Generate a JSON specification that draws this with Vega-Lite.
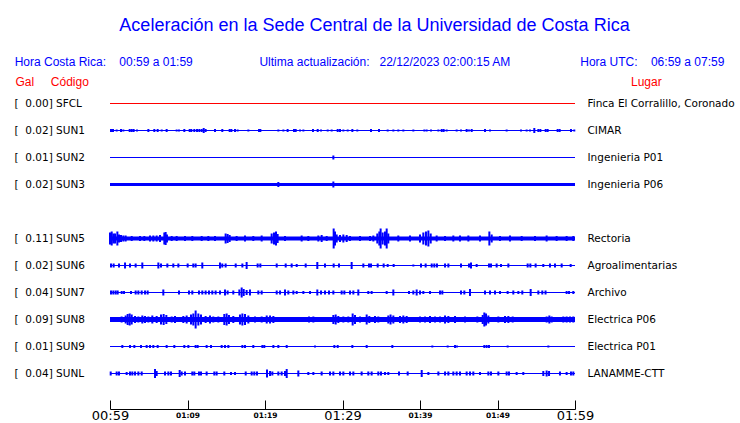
{
  "$schema": "https://vega.github.io/schema/vega-lite/v6.json",
  "width": 465,
  "height": 297,
  "autosize": "none",
  "padding": {"left": 110, "top": 90, "right": 165, "bottom": 36},
  "background": "white",
  "title": {
    "text": "Aceleración en la Sede Central de la Universidad de Costa Rica",
    "subtitle": "Hora Costa Rica:\u00a0\u00a0\u00a0\u00a000:59 a 01:59\u00a0\u00a0\u00a0\u00a0\u00a0\u00a0\u00a0\u00a0\u00a0\u00a0\u00a0\u00a0\u00a0\u00a0\u00a0\u00a0\u00a0\u00a0\u00a0\u00a0Ultima actualización:\u00a0\u00a0\u00a022/12/2023 02:00:15 AM\u00a0\u00a0\u00a0\u00a0\u00a0\u00a0\u00a0\u00a0\u00a0\u00a0\u00a0\u00a0\u00a0\u00a0\u00a0\u00a0\u00a0\u00a0\u00a0\u00a0\u00a0Hora UTC:\u00a0\u00a0\u00a0\u00a006:59 a 07:59\u00a0\u00a0\u00a0\u200b",
    "anchor": "middle",
    "frame": "group",
    "dx": 32,
    "offset": 7,
    "font": "Liberation Sans",
    "fontSize": 18,
    "fontWeight": "normal",
    "color": "#0000ff",
    "subtitleFont": "Liberation Sans",
    "subtitleFontSize": 12,
    "subtitleColor": "#0000ff",
    "subtitlePadding": 22
  },
  "datasets": {
    "est": [
      {"st": "SFCL", "izq": "[\u00a0\u00a00.00] SFCL", "lugar": "Finca El Corralillo, Coronado", "ini": 0, "fin": 60, "ruido": 1},
      {"st": "SUN1", "izq": "[\u00a0\u00a00.02] SUN1", "lugar": "CIMAR", "ini": 0, "fin": 60, "ruido": 1},
      {"st": "SUN2", "izq": "[\u00a0\u00a00.01] SUN2", "lugar": "Ingenieria P01", "ini": 0, "fin": 60, "ruido": 1},
      {"st": "SUN3", "izq": "[\u00a0\u00a00.02] SUN3", "lugar": "Ingenieria P06", "ini": 0, "fin": 60, "ruido": 3},
      {"st": "SUN5", "izq": "[\u00a0\u00a00.11] SUN5", "lugar": "Rectoria", "ini": 0, "fin": 60, "ruido": 4},
      {"st": "SUN6", "izq": "[\u00a0\u00a00.02] SUN6", "lugar": "Agroalimentarias", "ini": 0, "fin": 60, "ruido": 1},
      {"st": "SUN7", "izq": "[\u00a0\u00a00.04] SUN7", "lugar": "Archivo", "ini": 0, "fin": 60, "ruido": 1},
      {"st": "SUN8", "izq": "[\u00a0\u00a00.09] SUN8", "lugar": "Electrica P06", "ini": 0, "fin": 60, "ruido": 5},
      {"st": "SUN9", "izq": "[\u00a0\u00a00.01] SUN9", "lugar": "Electrica P01", "ini": 0, "fin": 60, "ruido": 1},
      {"st": "SUNL", "izq": "[\u00a0\u00a00.04] SUNL", "lugar": "LANAMME-CTT", "ini": 0, "fin": 60, "ruido": 1}
    ],
    "trazas": [
      {"s":"SUN1","m":0.13,"a":3},{"s":"SUN1","m":0.39,"a":3},{"s":"SUN1","m":0.86,"a":2},{"s":"SUN1","m":1.42,"a":3},{"s":"SUN1","m":1.72,"a":2},
      {"s":"SUN1","m":2.54,"a":3},{"s":"SUN1","m":2.8,"a":3},{"s":"SUN1","m":3.05,"a":3},{"s":"SUN1","m":3.48,"a":2},{"s":"SUN1","m":4.95,"a":3},
      {"s":"SUN1","m":5.72,"a":3},{"s":"SUN1","m":6.15,"a":3},{"s":"SUN1","m":6.67,"a":2},{"s":"SUN1","m":7.31,"a":3},{"s":"SUN1","m":8.6,"a":2},
      {"s":"SUN1","m":8.9,"a":2},{"s":"SUN1","m":9.59,"a":3},{"s":"SUN1","m":10.28,"a":3},{"s":"SUN1","m":10.49,"a":3},{"s":"SUN1","m":10.88,"a":3},
      {"s":"SUN1","m":11.23,"a":3},{"s":"SUN1","m":11.53,"a":3},{"s":"SUN1","m":11.83,"a":3},{"s":"SUN1","m":12.09,"a":5},{"s":"SUN1","m":12.34,"a":3},
      {"s":"SUN1","m":13.55,"a":3},{"s":"SUN1","m":14.49,"a":3},{"s":"SUN1","m":15.44,"a":3},{"s":"SUN1","m":15.66,"a":3},{"s":"SUN1","m":16.13,"a":3},
      {"s":"SUN1","m":16.47,"a":2},{"s":"SUN1","m":17.85,"a":2},{"s":"SUN1","m":19.23,"a":3},{"s":"SUN1","m":19.4,"a":3},{"s":"SUN1","m":21.72,"a":2},
      {"s":"SUN1","m":22.37,"a":2},{"s":"SUN1","m":22.92,"a":3},{"s":"SUN1","m":23.74,"a":3},{"s":"SUN1","m":23.96,"a":3},{"s":"SUN1","m":24.52,"a":2},
      {"s":"SUN1","m":24.95,"a":2},{"s":"SUN1","m":26.19,"a":3},{"s":"SUN1","m":26.8,"a":3},{"s":"SUN1","m":27.23,"a":2},{"s":"SUN1","m":28.09,"a":2},
      {"s":"SUN1","m":28.6,"a":2},{"s":"SUN1","m":29.38,"a":3},{"s":"SUN1","m":29.68,"a":3},{"s":"SUN1","m":30.11,"a":2},{"s":"SUN1","m":30.67,"a":2},
      {"s":"SUN1","m":31.27,"a":3},{"s":"SUN1","m":31.91,"a":2},{"s":"SUN1","m":33.68,"a":3},{"s":"SUN1","m":34.71,"a":3},{"s":"SUN1","m":35.83,"a":2},
      {"s":"SUN1","m":36.56,"a":2},{"s":"SUN1","m":37.2,"a":2},{"s":"SUN1","m":37.85,"a":2},{"s":"SUN1","m":39.14,"a":2},{"s":"SUN1","m":40.56,"a":2},
      {"s":"SUN1","m":40.86,"a":2},{"s":"SUN1","m":41.42,"a":2},{"s":"SUN1","m":42.37,"a":2},{"s":"SUN1","m":42.8,"a":3},{"s":"SUN1","m":43.05,"a":3},
      {"s":"SUN1","m":43.44,"a":2},{"s":"SUN1","m":44.73,"a":2},{"s":"SUN1","m":45.29,"a":2},{"s":"SUN1","m":46.02,"a":3},{"s":"SUN1","m":46.32,"a":2},
      {"s":"SUN1","m":46.67,"a":3},{"s":"SUN1","m":48.39,"a":3},{"s":"SUN1","m":49.03,"a":2},{"s":"SUN1","m":51.18,"a":2},{"s":"SUN1","m":53.03,"a":2},
      {"s":"SUN1","m":53.76,"a":2},{"s":"SUN1","m":54.19,"a":2},{"s":"SUN1","m":54.75,"a":5},{"s":"SUN1","m":55.27,"a":3},{"s":"SUN1","m":55.53,"a":3},
      {"s":"SUN1","m":56.22,"a":3},{"s":"SUN1","m":56.47,"a":3},{"s":"SUN1","m":57.76,"a":3},{"s":"SUN1","m":58.02,"a":3},{"s":"SUN1","m":59.48,"a":3},
      {"s":"SUN1","m":59.91,"a":2},
      {"s":"SUN2","m":28.82,"a":4},
      {"s":"SUN3","m":21.72,"a":5},{"s":"SUN3","m":28.82,"a":6},
      {"s":"SUN5","m":0,"a":12},{"s":"SUN5","m":0.22,"a":14},{"s":"SUN5","m":0.43,"a":10},{"s":"SUN5","m":0.65,"a":10},{"s":"SUN5","m":0.95,"a":14},
      {"s":"SUN5","m":1.16,"a":8},{"s":"SUN5","m":1.42,"a":7},{"s":"SUN5","m":1.72,"a":6},{"s":"SUN5","m":2.02,"a":6},{"s":"SUN5","m":2.8,"a":5},
      {"s":"SUN5","m":3.87,"a":5},{"s":"SUN5","m":4.43,"a":5},{"s":"SUN5","m":5.16,"a":6},{"s":"SUN5","m":5.59,"a":6},{"s":"SUN5","m":6.02,"a":6},
      {"s":"SUN5","m":6.45,"a":7},{"s":"SUN5","m":7.01,"a":12},{"s":"SUN5","m":7.18,"a":13},{"s":"SUN5","m":7.35,"a":8},{"s":"SUN5","m":7.96,"a":5},
      {"s":"SUN5","m":8.6,"a":5},{"s":"SUN5","m":9.68,"a":5},{"s":"SUN5","m":10.62,"a":5},{"s":"SUN5","m":11.83,"a":5},{"s":"SUN5","m":12.69,"a":5},
      {"s":"SUN5","m":13.55,"a":5},{"s":"SUN5","m":14.92,"a":10},{"s":"SUN5","m":15.18,"a":9},{"s":"SUN5","m":15.44,"a":7},{"s":"SUN5","m":16.34,"a":5},
      {"s":"SUN5","m":17.42,"a":6},{"s":"SUN5","m":18.49,"a":5},{"s":"SUN5","m":19.57,"a":6},{"s":"SUN5","m":20.86,"a":10},{"s":"SUN5","m":21.16,"a":12},
      {"s":"SUN5","m":21.42,"a":14},{"s":"SUN5","m":21.63,"a":9},{"s":"SUN5","m":22.58,"a":5},{"s":"SUN5","m":24.73,"a":6},{"s":"SUN5","m":25.59,"a":5},
      {"s":"SUN5","m":26.88,"a":6},{"s":"SUN5","m":27.31,"a":7},{"s":"SUN5","m":27.96,"a":5},{"s":"SUN5","m":28.86,"a":20},{"s":"SUN5","m":29.03,"a":14},
      {"s":"SUN5","m":29.25,"a":8},{"s":"SUN5","m":29.68,"a":7},{"s":"SUN5","m":30.11,"a":8},{"s":"SUN5","m":30.54,"a":7},{"s":"SUN5","m":30.97,"a":5},
      {"s":"SUN5","m":32.26,"a":5},{"s":"SUN5","m":33.55,"a":5},{"s":"SUN5","m":33.98,"a":6},{"s":"SUN5","m":34.49,"a":10},{"s":"SUN5","m":34.75,"a":14},
      {"s":"SUN5","m":34.92,"a":20},{"s":"SUN5","m":35.18,"a":12},{"s":"SUN5","m":35.48,"a":14},{"s":"SUN5","m":35.7,"a":20},{"s":"SUN5","m":35.91,"a":10},
      {"s":"SUN5","m":37.2,"a":6},{"s":"SUN5","m":38.71,"a":6},{"s":"SUN5","m":40,"a":8},{"s":"SUN5","m":40.43,"a":12},{"s":"SUN5","m":40.77,"a":14},
      {"s":"SUN5","m":41.08,"a":16},{"s":"SUN5","m":41.38,"a":10},{"s":"SUN5","m":42.15,"a":6},{"s":"SUN5","m":43.23,"a":5},{"s":"SUN5","m":44.3,"a":6},
      {"s":"SUN5","m":45.16,"a":6},{"s":"SUN5","m":46.24,"a":6},{"s":"SUN5","m":47.74,"a":6},{"s":"SUN5","m":48.95,"a":14},{"s":"SUN5","m":49.25,"a":8},
      {"s":"SUN5","m":50.32,"a":5},{"s":"SUN5","m":51.61,"a":6},{"s":"SUN5","m":53.12,"a":5},{"s":"SUN5","m":54.84,"a":5},{"s":"SUN5","m":56.34,"a":6},
      {"s":"SUN5","m":57.63,"a":5},{"s":"SUN5","m":58.92,"a":5},{"s":"SUN5","m":59.78,"a":5},
      {"s":"SUN6","m":0.13,"a":4},{"s":"SUN6","m":0.47,"a":4},{"s":"SUN6","m":1.16,"a":4},{"s":"SUN6","m":1.94,"a":6},{"s":"SUN6","m":2.58,"a":4},
      {"s":"SUN6","m":3.31,"a":4},{"s":"SUN6","m":4.17,"a":6},{"s":"SUN6","m":6.24,"a":6},{"s":"SUN6","m":6.58,"a":4},{"s":"SUN6","m":7.4,"a":4},
      {"s":"SUN6","m":8.17,"a":4},{"s":"SUN6","m":8.82,"a":4},{"s":"SUN6","m":10.02,"a":4},{"s":"SUN6","m":10.75,"a":4},{"s":"SUN6","m":11.05,"a":4},
      {"s":"SUN6","m":11.91,"a":6},{"s":"SUN6","m":14.19,"a":6},{"s":"SUN6","m":14.49,"a":4},{"s":"SUN6","m":14.92,"a":4},{"s":"SUN6","m":16.22,"a":4},
      {"s":"SUN6","m":17.08,"a":4},{"s":"SUN6","m":17.63,"a":7},{"s":"SUN6","m":19.05,"a":4},{"s":"SUN6","m":19.4,"a":4},{"s":"SUN6","m":21.51,"a":4},
      {"s":"SUN6","m":22.67,"a":4},{"s":"SUN6","m":23.44,"a":4},{"s":"SUN6","m":24.09,"a":3},{"s":"SUN6","m":25.25,"a":4},{"s":"SUN6","m":26.75,"a":7},
      {"s":"SUN6","m":27.74,"a":4},{"s":"SUN6","m":28.86,"a":4},{"s":"SUN6","m":29.55,"a":4},{"s":"SUN6","m":31.18,"a":7},{"s":"SUN6","m":32.69,"a":4},
      {"s":"SUN6","m":33.42,"a":4},{"s":"SUN6","m":33.68,"a":4},{"s":"SUN6","m":34.54,"a":4},{"s":"SUN6","m":35.31,"a":4},{"s":"SUN6","m":35.83,"a":3},
      {"s":"SUN6","m":36.6,"a":3},{"s":"SUN6","m":39.14,"a":2},{"s":"SUN6","m":40.13,"a":4},{"s":"SUN6","m":40.73,"a":4},{"s":"SUN6","m":41.51,"a":4},
      {"s":"SUN6","m":41.85,"a":4},{"s":"SUN6","m":42.19,"a":4},{"s":"SUN6","m":43.23,"a":4},{"s":"SUN6","m":43.66,"a":4},{"s":"SUN6","m":45.29,"a":4},
      {"s":"SUN6","m":46.32,"a":4},{"s":"SUN6","m":46.58,"a":6},{"s":"SUN6","m":47.31,"a":3},{"s":"SUN6","m":48.9,"a":4},{"s":"SUN6","m":49.16,"a":4},
      {"s":"SUN6","m":49.89,"a":4},{"s":"SUN6","m":50.45,"a":3},{"s":"SUN6","m":51.4,"a":4},{"s":"SUN6","m":53.89,"a":4},{"s":"SUN6","m":54.24,"a":4},
      {"s":"SUN6","m":54.92,"a":4},{"s":"SUN6","m":55.91,"a":3},{"s":"SUN6","m":56.77,"a":4},{"s":"SUN6","m":57.42,"a":4},{"s":"SUN6","m":58.28,"a":4},
      {"s":"SUN6","m":59.44,"a":3},
      {"s":"SUN7","m":0.13,"a":4},{"s":"SUN7","m":0.43,"a":4},{"s":"SUN7","m":0.73,"a":4},{"s":"SUN7","m":0.99,"a":4},{"s":"SUN7","m":1.51,"a":3},
      {"s":"SUN7","m":1.81,"a":3},{"s":"SUN7","m":2.71,"a":3},{"s":"SUN7","m":3.31,"a":4},{"s":"SUN7","m":3.66,"a":4},{"s":"SUN7","m":4.09,"a":4},
      {"s":"SUN7","m":4.52,"a":4},{"s":"SUN7","m":4.86,"a":4},{"s":"SUN7","m":6.88,"a":6},{"s":"SUN7","m":8.9,"a":4},{"s":"SUN7","m":10.19,"a":4},
      {"s":"SUN7","m":10.62,"a":4},{"s":"SUN7","m":11.48,"a":4},{"s":"SUN7","m":11.91,"a":4},{"s":"SUN7","m":12.34,"a":4},{"s":"SUN7","m":12.77,"a":4},
      {"s":"SUN7","m":13.2,"a":4},{"s":"SUN7","m":13.63,"a":4},{"s":"SUN7","m":14.19,"a":4},{"s":"SUN7","m":14.84,"a":6},{"s":"SUN7","m":15.18,"a":4},
      {"s":"SUN7","m":15.91,"a":4},{"s":"SUN7","m":16.69,"a":6},{"s":"SUN7","m":16.99,"a":10},{"s":"SUN7","m":17.25,"a":7},{"s":"SUN7","m":17.63,"a":5},
      {"s":"SUN7","m":18.06,"a":6},{"s":"SUN7","m":19.14,"a":4},{"s":"SUN7","m":19.57,"a":4},{"s":"SUN7","m":21.51,"a":4},{"s":"SUN7","m":21.94,"a":4},
      {"s":"SUN7","m":22.58,"a":6},{"s":"SUN7","m":23.01,"a":4},{"s":"SUN7","m":23.66,"a":4},{"s":"SUN7","m":24.09,"a":3},{"s":"SUN7","m":24.95,"a":3},
      {"s":"SUN7","m":25.81,"a":3},{"s":"SUN7","m":26.75,"a":6},{"s":"SUN7","m":27.23,"a":4},{"s":"SUN7","m":27.74,"a":4},{"s":"SUN7","m":28.26,"a":4},
      {"s":"SUN7","m":28.82,"a":4},{"s":"SUN7","m":29.89,"a":4},{"s":"SUN7","m":30.24,"a":4},{"s":"SUN7","m":30.97,"a":4},{"s":"SUN7","m":31.4,"a":4},
      {"s":"SUN7","m":32.04,"a":6},{"s":"SUN7","m":33.33,"a":3},{"s":"SUN7","m":33.76,"a":3},{"s":"SUN7","m":35.7,"a":3},{"s":"SUN7","m":36.56,"a":6},
      {"s":"SUN7","m":38.58,"a":3},{"s":"SUN7","m":39.14,"a":4},{"s":"SUN7","m":39.57,"a":6},{"s":"SUN7","m":40,"a":4},{"s":"SUN7","m":40.43,"a":3},
      {"s":"SUN7","m":41.29,"a":3},{"s":"SUN7","m":42.58,"a":4},{"s":"SUN7","m":42.88,"a":4},{"s":"SUN7","m":45.29,"a":4},{"s":"SUN7","m":45.72,"a":4},
      {"s":"SUN7","m":46.45,"a":7},{"s":"SUN7","m":48.39,"a":4},{"s":"SUN7","m":49.03,"a":4},{"s":"SUN7","m":49.68,"a":4},{"s":"SUN7","m":50.32,"a":3},
      {"s":"SUN7","m":51.31,"a":3},{"s":"SUN7","m":52.04,"a":4},{"s":"SUN7","m":52.69,"a":3},{"s":"SUN7","m":53.2,"a":4},{"s":"SUN7","m":54.28,"a":7},
      {"s":"SUN7","m":55.27,"a":4},{"s":"SUN7","m":55.78,"a":4},{"s":"SUN7","m":56.2,"a":4},{"s":"SUN7","m":58.92,"a":3},{"s":"SUN7","m":59.23,"a":3},
      {"s":"SUN7","m":59.78,"a":3},
      {"s":"SUN8","m":1.08,"a":5},{"s":"SUN8","m":1.5,"a":6},{"s":"SUN8","m":2.02,"a":8},{"s":"SUN8","m":2.28,"a":11},{"s":"SUN8","m":2.54,"a":12},
      {"s":"SUN8","m":2.8,"a":10},{"s":"SUN8","m":3.23,"a":7},{"s":"SUN8","m":3.66,"a":6},{"s":"SUN8","m":4.17,"a":8},{"s":"SUN8","m":4.52,"a":7},
      {"s":"SUN8","m":4.95,"a":6},{"s":"SUN8","m":5.46,"a":8},{"s":"SUN8","m":6.02,"a":7},{"s":"SUN8","m":6.58,"a":10},{"s":"SUN8","m":6.92,"a":11},
      {"s":"SUN8","m":7.27,"a":9},{"s":"SUN8","m":7.96,"a":6},{"s":"SUN8","m":8.39,"a":7},{"s":"SUN8","m":9.46,"a":7},{"s":"SUN8","m":9.89,"a":8},
      {"s":"SUN8","m":10.45,"a":10},{"s":"SUN8","m":10.75,"a":12},{"s":"SUN8","m":11.05,"a":18},{"s":"SUN8","m":11.4,"a":12},{"s":"SUN8","m":11.74,"a":10},
      {"s":"SUN8","m":12.34,"a":7},{"s":"SUN8","m":12.9,"a":8},{"s":"SUN8","m":13.33,"a":6},{"s":"SUN8","m":13.98,"a":6},{"s":"SUN8","m":14.75,"a":11},
      {"s":"SUN8","m":15.05,"a":12},{"s":"SUN8","m":15.35,"a":9},{"s":"SUN8","m":15.91,"a":7},{"s":"SUN8","m":16.77,"a":10},{"s":"SUN8","m":17.08,"a":12},
      {"s":"SUN8","m":17.42,"a":11},{"s":"SUN8","m":17.85,"a":8},{"s":"SUN8","m":18.71,"a":6},{"s":"SUN8","m":19.57,"a":6},{"s":"SUN8","m":20.22,"a":8},
      {"s":"SUN8","m":20.65,"a":8},{"s":"SUN8","m":21.08,"a":7},{"s":"SUN8","m":25.68,"a":6},{"s":"SUN8","m":26.24,"a":6},{"s":"SUN8","m":26.88,"a":5},
      {"s":"SUN8","m":27.74,"a":5},{"s":"SUN8","m":28.82,"a":9},{"s":"SUN8","m":29.12,"a":10},{"s":"SUN8","m":29.46,"a":7},{"s":"SUN8","m":30.11,"a":6},
      {"s":"SUN8","m":30.75,"a":6},{"s":"SUN8","m":31.31,"a":12},{"s":"SUN8","m":31.61,"a":9},{"s":"SUN8","m":32.26,"a":6},{"s":"SUN8","m":33.12,"a":10},
      {"s":"SUN8","m":33.46,"a":7},{"s":"SUN8","m":34.19,"a":7},{"s":"SUN8","m":34.62,"a":6},{"s":"SUN8","m":35.91,"a":8},{"s":"SUN8","m":36.2,"a":10},
      {"s":"SUN8","m":36.56,"a":8},{"s":"SUN8","m":37.42,"a":7},{"s":"SUN8","m":37.85,"a":8},{"s":"SUN8","m":38.28,"a":7},{"s":"SUN8","m":40,"a":6},
      {"s":"SUN8","m":40.65,"a":6},{"s":"SUN8","m":41.29,"a":7},{"s":"SUN8","m":41.94,"a":6},{"s":"SUN8","m":42.58,"a":6},{"s":"SUN8","m":43.23,"a":8},
      {"s":"SUN8","m":43.66,"a":7},{"s":"SUN8","m":44.52,"a":7},{"s":"SUN8","m":45.81,"a":6},{"s":"SUN8","m":47.4,"a":6},{"s":"SUN8","m":48.09,"a":9},
      {"s":"SUN8","m":48.3,"a":14},{"s":"SUN8","m":48.52,"a":12},{"s":"SUN8","m":48.82,"a":8},{"s":"SUN8","m":50.11,"a":6},{"s":"SUN8","m":50.97,"a":7},
      {"s":"SUN8","m":51.4,"a":7},{"s":"SUN8","m":51.96,"a":6},{"s":"SUN8","m":53.98,"a":5},{"s":"SUN8","m":56.34,"a":6},{"s":"SUN8","m":56.69,"a":8},
      {"s":"SUN8","m":56.99,"a":6},{"s":"SUN8","m":57.85,"a":5},{"s":"SUN8","m":58.49,"a":6},{"s":"SUN8","m":58.92,"a":6},{"s":"SUN8","m":59.35,"a":6},
      {"s":"SUN8","m":59.78,"a":6},
      {"s":"SUN9","m":1.59,"a":3},{"s":"SUN9","m":2.58,"a":3},{"s":"SUN9","m":3.14,"a":3},{"s":"SUN9","m":4.0,"a":3},{"s":"SUN9","m":4.73,"a":3},
      {"s":"SUN9","m":5.16,"a":3},{"s":"SUN9","m":5.59,"a":3},{"s":"SUN9","m":6.15,"a":3},{"s":"SUN9","m":7.31,"a":3},{"s":"SUN9","m":8.3,"a":3},
      {"s":"SUN9","m":9.59,"a":3},{"s":"SUN9","m":10.11,"a":3},{"s":"SUN9","m":11.05,"a":3},{"s":"SUN9","m":11.31,"a":3},{"s":"SUN9","m":12.47,"a":3},
      {"s":"SUN9","m":13.03,"a":3},{"s":"SUN9","m":14.41,"a":3},{"s":"SUN9","m":14.84,"a":3},{"s":"SUN9","m":15.27,"a":3},{"s":"SUN9","m":17.08,"a":3},
      {"s":"SUN9","m":17.42,"a":3},{"s":"SUN9","m":18.49,"a":3},{"s":"SUN9","m":19.66,"a":3},{"s":"SUN9","m":19.91,"a":3},{"s":"SUN9","m":21.08,"a":3},
      {"s":"SUN9","m":21.72,"a":3},{"s":"SUN9","m":22.8,"a":3},{"s":"SUN9","m":26.45,"a":2},{"s":"SUN9","m":28.95,"a":3},{"s":"SUN9","m":29.38,"a":3},
      {"s":"SUN9","m":31.27,"a":3},{"s":"SUN9","m":33.12,"a":3},{"s":"SUN9","m":36.43,"a":3},{"s":"SUN9","m":41.59,"a":2},{"s":"SUN9","m":43.57,"a":2},
      {"s":"SUN9","m":44.52,"a":3},{"s":"SUN9","m":44.77,"a":2},{"s":"SUN9","m":48.3,"a":3},{"s":"SUN9","m":48.6,"a":3},{"s":"SUN9","m":48.9,"a":3},
      {"s":"SUN9","m":51.31,"a":2},{"s":"SUN9","m":56.56,"a":2},
      {"s":"SUNL","m":0.09,"a":4},{"s":"SUNL","m":0.86,"a":4},{"s":"SUNL","m":1.16,"a":4},{"s":"SUNL","m":2.15,"a":3},{"s":"SUNL","m":2.58,"a":4},
      {"s":"SUNL","m":2.88,"a":4},{"s":"SUNL","m":3.23,"a":4},{"s":"SUNL","m":3.66,"a":4},{"s":"SUNL","m":4.09,"a":4},{"s":"SUNL","m":5.81,"a":9},
      {"s":"SUNL","m":6.02,"a":5},{"s":"SUNL","m":7.1,"a":4},{"s":"SUNL","m":7.53,"a":4},{"s":"SUNL","m":7.87,"a":4},{"s":"SUNL","m":8.99,"a":7},
      {"s":"SUNL","m":9.25,"a":4},{"s":"SUNL","m":9.68,"a":4},{"s":"SUNL","m":10.62,"a":4},{"s":"SUNL","m":10.88,"a":4},{"s":"SUNL","m":11.48,"a":4},
      {"s":"SUNL","m":11.74,"a":4},{"s":"SUNL","m":12.47,"a":4},{"s":"SUNL","m":13.46,"a":4},{"s":"SUNL","m":13.76,"a":4},{"s":"SUNL","m":14.75,"a":4},
      {"s":"SUNL","m":15.61,"a":3},{"s":"SUNL","m":16.13,"a":3},{"s":"SUNL","m":17.51,"a":4},{"s":"SUNL","m":18.28,"a":4},{"s":"SUNL","m":18.62,"a":4},
      {"s":"SUNL","m":18.97,"a":4},{"s":"SUNL","m":20.26,"a":8},{"s":"SUNL","m":20.65,"a":5},{"s":"SUNL","m":20.95,"a":4},{"s":"SUNL","m":21.72,"a":4},
      {"s":"SUNL","m":22.15,"a":4},{"s":"SUNL","m":22.58,"a":5},{"s":"SUNL","m":22.8,"a":9},{"s":"SUNL","m":24.3,"a":6},{"s":"SUNL","m":25.59,"a":3},
      {"s":"SUNL","m":26.24,"a":3},{"s":"SUNL","m":27.31,"a":4},{"s":"SUNL","m":28.39,"a":4},{"s":"SUNL","m":28.82,"a":4},{"s":"SUNL","m":29.68,"a":4},
      {"s":"SUNL","m":30.11,"a":4},{"s":"SUNL","m":30.97,"a":4},{"s":"SUNL","m":31.4,"a":4},{"s":"SUNL","m":32.47,"a":4},{"s":"SUNL","m":33.33,"a":4},
      {"s":"SUNL","m":33.76,"a":4},{"s":"SUNL","m":34.62,"a":4},{"s":"SUNL","m":34.97,"a":4},{"s":"SUNL","m":35.48,"a":3},{"s":"SUNL","m":35.91,"a":3},
      {"s":"SUNL","m":37.29,"a":4},{"s":"SUNL","m":38.41,"a":4},{"s":"SUNL","m":40.22,"a":7},{"s":"SUNL","m":41.08,"a":3},{"s":"SUNL","m":42.37,"a":4},
      {"s":"SUNL","m":43.23,"a":4},{"s":"SUNL","m":43.66,"a":4},{"s":"SUNL","m":44.3,"a":4},{"s":"SUNL","m":44.73,"a":4},{"s":"SUNL","m":45.16,"a":4},
      {"s":"SUNL","m":46.02,"a":4},{"s":"SUNL","m":46.45,"a":4},{"s":"SUNL","m":46.88,"a":4},{"s":"SUNL","m":47.74,"a":3},{"s":"SUNL","m":48.82,"a":4},
      {"s":"SUNL","m":49.16,"a":4},{"s":"SUNL","m":50.11,"a":4},{"s":"SUNL","m":51.18,"a":4},{"s":"SUNL","m":51.48,"a":4},{"s":"SUNL","m":52.47,"a":3},
      {"s":"SUNL","m":53.33,"a":3},{"s":"SUNL","m":55.91,"a":5},{"s":"SUNL","m":56.34,"a":6},{"s":"SUNL","m":56.65,"a":5},{"s":"SUNL","m":58.06,"a":4},
      {"s":"SUNL","m":58.92,"a":3},{"s":"SUNL","m":59.48,"a":4},{"s":"SUNL","m":59.78,"a":4}
    ]
  },
  "layer": [
    {
      "data": {"name": "est"},
      "mark": {"type": "rule"},
      "encoding": {
        "x": {
          "field": "ini",
          "type": "quantitative",
          "scale": {"domain": [0, 60], "nice": false, "zero": false},
          "axis": {
            "title": null,
            "orient": "bottom",
            "offset": 22,
            "grid": false,
            "values": [0, 5, 10, 15, 20, 25, 30, 35, 40, 45, 50, 55, 60],
            "labelExpr": "datum.value % 10 != 0 ? '' : pad(floor((59 + datum.value) / 60), 2, '0', 'left') + ':' + pad((59 + datum.value) % 60, 2, '0', 'left')",
            "labelFlush": false,
            "labelOverlap": false,
            "labelFont": "DejaVu Sans",
            "labelFontSize": {"condition": {"test": "datum.value % 30 == 0", "value": 13}, "value": 7.5},
            "labelFontWeight": {"condition": {"test": "datum.value % 30 == 0", "value": "normal"}, "value": "bold"},
            "labelColor": "#000000",
            "labelBaseline": "middle",
            "labelPadding": 15,
            "tickSize": -9,
            "tickColor": "#000000",
            "tickWidth": 1,
            "domainColor": "#000000",
            "domainWidth": 1
          }
        },
        "x2": {"field": "fin"},
        "y": {
          "field": "lugar",
          "type": "nominal",
          "scale": {
            "type": "point",
            "padding": 0.5,
            "domain": ["Finca El Corralillo, Coronado", "CIMAR", "Ingenieria P01", "Ingenieria P06", "", "Rectoria", "Agroalimentarias", "Archivo", "Electrica P06", "Electrica P01", "LANAMME-CTT"]
          },
          "axis": {
            "orient": "right",
            "ticks": false,
            "domain": false,
            "grid": false,
            "labelAlign": "left",
            "labelBaseline": "middle",
            "labelPadding": 12,
            "labelLimit": 0,
            "labelFont": "DejaVu Sans",
            "labelFontSize": 10.5,
            "labelColor": "#000000",
            "title": "Lugar",
            "titleAngle": 0,
            "titleAlign": "left",
            "titleBaseline": "middle",
            "titleX": 55.5,
            "titleY": -9,
            "titleFont": "Liberation Sans",
            "titleFontSize": 12,
            "titleFontWeight": "normal",
            "titleColor": "#ff0000"
          }
        },
        "color": {"condition": {"test": "datum.st === 'SFCL'", "value": "#ff0000"}, "value": "#0000ff"},
        "strokeWidth": {"field": "ruido", "type": "quantitative", "scale": {"domain": [0, 5], "range": [0, 5]}, "legend": null}
      }
    },
    {
      "data": {"name": "trazas"},
      "transform": [
        {"lookup": "s", "from": {"data": {"name": "est"}, "key": "st", "fields": ["izq"]}}
      ],
      "mark": {"type": "tick", "orient": "vertical", "thickness": 2, "color": "#0000ff", "opacity": 1},
      "encoding": {
        "x": {"field": "m", "type": "quantitative", "scale": {"domain": [0, 60], "nice": false, "zero": false}},
        "y": {
          "field": "izq",
          "type": "nominal",
          "scale": {
            "type": "point",
            "padding": 0.5,
            "domain": ["[\u00a0\u00a00.00] SFCL", "[\u00a0\u00a00.02] SUN1", "[\u00a0\u00a00.01] SUN2", "[\u00a0\u00a00.02] SUN3", "", "[\u00a0\u00a00.11] SUN5", "[\u00a0\u00a00.02] SUN6", "[\u00a0\u00a00.04] SUN7", "[\u00a0\u00a00.09] SUN8", "[\u00a0\u00a00.01] SUN9", "[\u00a0\u00a00.04] SUNL"]
          },
          "axis": {
            "orient": "left",
            "ticks": false,
            "domain": false,
            "grid": false,
            "labelAlign": "left",
            "labelBaseline": "middle",
            "labelPadding": 96,
            "labelLimit": 0,
            "labelFont": "DejaVu Sans",
            "labelFontSize": 10.5,
            "labelColor": "#000000",
            "title": "Gal\u00a0\u00a0\u00a0\u00a0\u00a0Código",
            "titleAngle": 0,
            "titleAlign": "left",
            "titleBaseline": "middle",
            "titleX": -95,
            "titleY": -9,
            "titleFont": "Liberation Sans",
            "titleFontSize": 12,
            "titleFontWeight": "normal",
            "titleColor": "#ff0000"
          }
        },
        "size": {"field": "a", "type": "quantitative", "scale": {"domain": [0, 20], "range": [0, 20]}, "legend": null}
      }
    }
  ],
  "resolve": {"scale": {"y": "independent"}, "axis": {"y": "independent"}},
  "config": {"view": {"stroke": null}}
}
